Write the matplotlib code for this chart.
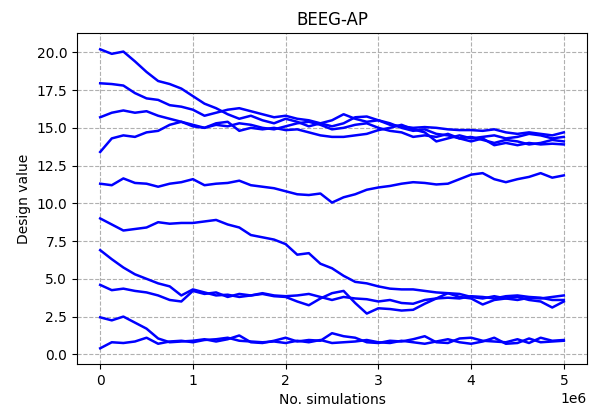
import numpy as np
import matplotlib
matplotlib.use("Agg")
import matplotlib.pyplot as plt

# sample positions (millions of simulations)
sims = [0.0, 0.125, 0.25, 0.375, 0.5, 0.625, 0.75, 0.875, 1.0, 1.125, 1.25, 1.375,
        1.5, 1.625, 1.75, 1.875, 2.0, 2.125, 2.25, 2.375, 2.5, 2.625, 2.75, 2.875,
        3.0, 3.125, 3.25, 3.375, 3.5, 3.625, 3.75, 3.875, 4.0, 4.125, 4.25, 4.375,
        4.5, 4.625, 4.75, 4.875, 5.0]

run_a = [20.2, 19.9, 20.05, 19.4, 18.7, 18.1, 17.9, 17.6, 17.1, 16.6, 16.3, 15.9,
         15.6, 15.8, 15.5, 15.3, 15.6, 15.4, 15.1, 15.3, 15.5, 15.9, 15.6, 15.4,
         15.5, 15.3, 15.0, 14.8, 14.9, 14.6, 14.5, 14.3, 14.4, 14.2, 14.0, 14.2,
         14.1, 13.9, 14.0, 14.2, 14.1]
run_b = [17.95, 17.9, 17.8, 17.3, 16.95, 16.85, 16.5, 16.4, 16.2, 15.8, 16.0, 16.2,
         16.3, 16.1, 15.9, 15.7, 15.8, 15.6, 15.5, 15.3, 15.1, 15.3, 15.7, 15.75,
         15.5, 15.2, 15.1, 15.0, 15.05, 15.0, 14.9, 14.85, 14.85, 14.8, 14.9, 14.7,
         14.6, 14.7, 14.6, 14.5, 14.7]
run_c = [15.7, 16.0, 16.15, 16.0, 16.1, 15.8, 15.6, 15.4, 15.2, 15.0, 15.2, 15.1,
         15.3, 15.2, 15.0, 14.9, 15.1, 15.3, 15.4, 15.2, 14.9, 15.0, 15.2, 15.3,
         15.0, 14.8, 14.7, 14.4, 14.5, 14.4, 14.6, 14.3, 14.1, 14.3, 13.85, 14.0,
         13.85, 14.0, 13.9, 13.95, 13.9]
run_d = [13.4, 14.3, 14.5, 14.4, 14.7, 14.8, 15.2, 15.4, 15.1, 15.0, 15.3, 15.4,
         14.8, 15.0, 14.9, 15.0, 14.85, 14.9, 14.7, 14.5, 14.4, 14.4, 14.5, 14.6,
         14.85, 15.0, 15.2, 14.9, 14.7, 14.1, 14.3, 14.5, 14.3, 14.4, 14.5, 14.3,
         14.4, 14.6, 14.5, 14.3, 14.4]
run_e = [11.3, 11.2, 11.65, 11.35, 11.3, 11.1, 11.3, 11.4, 11.6, 11.2, 11.3, 11.35,
         11.5, 11.2, 11.1, 11.0, 10.8, 10.6, 10.55, 10.65, 10.05, 10.4, 10.6, 10.9,
         11.05, 11.15, 11.3, 11.4, 11.35, 11.25, 11.3, 11.6, 11.9, 12.0, 11.6, 11.4,
         11.6, 11.75, 12.0, 11.7, 11.85]
run_f = [9.0, 8.6, 8.2, 8.3, 8.4, 8.75, 8.65, 8.7, 8.7, 8.8, 8.9, 8.6,
         8.4, 7.9, 7.75, 7.6, 7.3, 6.6, 6.7, 6.0, 5.7, 5.2, 4.8, 4.7,
         4.5, 4.35, 4.3, 4.3, 4.2, 4.1, 4.05, 4.0, 3.8, 3.7, 3.85, 3.7,
         3.6, 3.75, 3.7, 3.8, 3.9]
run_g = [6.9, 6.3, 5.75, 5.3, 5.0, 4.7, 4.5, 3.9, 4.3, 4.1, 3.9, 3.95,
         3.8, 3.9, 4.0, 3.85, 3.8, 3.5, 3.25, 3.7, 4.05, 4.2, 3.4, 2.7,
         3.05, 3.0, 2.9, 2.95, 3.35, 3.7, 4.05, 3.8, 3.7, 3.3, 3.6, 3.7,
         3.8, 3.6, 3.5, 3.1, 3.5]
run_h = [4.6, 4.25, 4.35, 4.2, 4.1, 3.9, 3.6, 3.5, 4.2, 4.0, 4.1, 3.8,
         4.0, 3.9, 4.05, 3.9, 3.85, 3.9, 4.0, 3.8, 3.6, 3.8, 3.7, 3.65,
         3.5, 3.6, 3.4, 3.35, 3.6, 3.7, 3.75, 3.7, 3.85, 3.8, 3.7, 3.85,
         3.9, 3.8, 3.75, 3.6, 3.6]
run_i = [2.45, 2.25, 2.5, 2.1, 1.7, 1.05, 0.8, 0.85, 0.9, 1.0, 0.85, 1.0,
         1.25, 0.8, 0.75, 0.9, 1.1, 0.85, 0.95, 0.9, 1.4, 1.2, 1.1, 0.8,
         0.75, 0.9, 0.85, 1.0, 1.2, 0.8, 0.75, 1.05, 1.1, 0.9, 0.85, 0.8,
         1.0, 0.75, 1.1, 0.9, 0.95]
run_j = [0.4, 0.8, 0.75, 0.85, 1.1, 0.7, 0.85, 0.9, 0.8, 0.95, 1.0, 1.1,
         0.9, 0.85, 0.8, 0.85, 0.75, 0.9, 0.8, 0.95, 0.75, 0.8, 0.85, 0.95,
         0.8, 0.75, 0.9, 0.8, 0.7, 0.85, 1.0, 0.8, 0.7, 0.85, 1.1, 0.7,
         0.75, 1.05, 0.8, 0.85, 0.9]

runs = [run_a, run_b, run_c, run_d, run_e, run_f, run_g, run_h, run_i, run_j]

fig = plt.figure(figsize=(5.92, 4.17), dpi=100)
ax = fig.add_axes([77 / 592, 1 - 364 / 417, 510 / 592, 331 / 417])

x = np.array(sims) * 1e6
for r in runs:
    ax.plot(x, r, color='blue', linewidth=1.8)

ax.set_ylim(-0.64, 21.28)
ax.set_yticks([0.0, 2.5, 5.0, 7.5, 10.0, 12.5, 15.0, 17.5, 20.0])
ax.grid(True, linestyle='--', color='#b0b0b0', linewidth=0.8)
ax.set_axisbelow(True)

ax.set_title("BEEG-AP")
ax.set_xlabel("No. simulations")
ax.set_ylabel("Design value")

fig.savefig("out.png", dpi=100)
